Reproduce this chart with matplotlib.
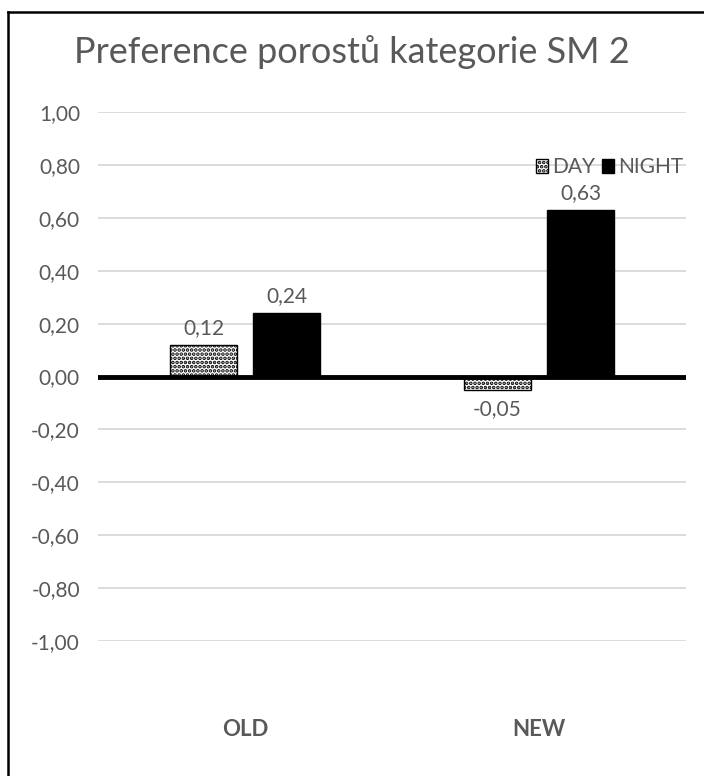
import numpy as np
import matplotlib.pyplot as plt
from matplotlib.lines import Line2D
from matplotlib.ticker import FuncFormatter

plt.rcParams['font.family'] = ['Lato', 'DejaVu Sans']
plt.rcParams['hatch.linewidth'] = 1.8

categories = ['OLD', 'NEW']
day = [0.12, -0.05]
night = [0.24, 0.63]
series_names = ['DAY', 'NIGHT']

grey = '#595959'

fig = plt.figure(figsize=(7.04, 7.76), dpi=100)
ax = fig.add_axes([98 / 704, 1 - 641 / 776, (686 - 98) / 704, (641 - 112) / 776])

x = np.arange(len(categories))
w = 0.225
off = 0.141

b1 = ax.bar(x - off, day, w, color='white', edgecolor='black', hatch='....',
            linewidth=1, label=series_names[0], zorder=3)
b2 = ax.bar(x + off, night, w, color='black', edgecolor='black',
            label=series_names[1], zorder=3)


def fmt(v):
    return f'{round(v, 2) + 0.0:.2f}'.replace('.', ',')


for bars in (b1, b2):
    for r in bars:
        v = r.get_height()
        cx = r.get_x() + r.get_width() / 2
        if v >= 0:
            ax.annotate(fmt(v), (cx, v), xytext=(0, 5), textcoords='offset points',
                        ha='center', va='bottom', fontsize=15, color=grey)
        else:
            ax.annotate(fmt(v), (cx, v), xytext=(0, -7), textcoords='offset points',
                        ha='center', va='top', fontsize=15, color=grey)

ax.set_xlim(-0.5, 1.5)
ax.set_ylim(-1, 1)
ax.set_yticks(np.arange(-1, 1.01, 0.2))
ax.yaxis.set_major_formatter(FuncFormatter(lambda v, p: fmt(v)))
ax.grid(axis='y', color='#d9d9d9', linewidth=1.3, zorder=0)
ax.axhline(0, color='black', linewidth=3.5, zorder=4)
for s in ax.spines.values():
    s.set_visible(False)
ax.tick_params(length=0)
ax.tick_params(axis='y', labelsize=15, labelcolor=grey, pad=13)
ax.set_xticks(x)
ax.set_xticklabels(categories, fontsize=16, fontweight='bold', color=grey)
ax.tick_params(axis='x', pad=56)

fig.text(0.5, 1 - 52 / 776, 'Preference porostů kategorie SM 2', ha='center', va='center',
         fontsize=26, color=grey)

leg = ax.legend(loc='upper right', bbox_to_anchor=(1.01, 0.93), ncol=2, frameon=False,
                fontsize=15, handlelength=0.6, handleheight=0.6, handletextpad=0.2,
                columnspacing=0.3, labelcolor=grey, borderaxespad=0)

fig.add_artist(Line2D([8 / 704, 8 / 704], [0, 1 - 12 / 776], color='black', linewidth=1.8))
fig.add_artist(Line2D([8 / 704, 1], [1 - 12 / 776, 1 - 12 / 776], color='black', linewidth=1.8))

fig.savefig('out.png', dpi=100)
